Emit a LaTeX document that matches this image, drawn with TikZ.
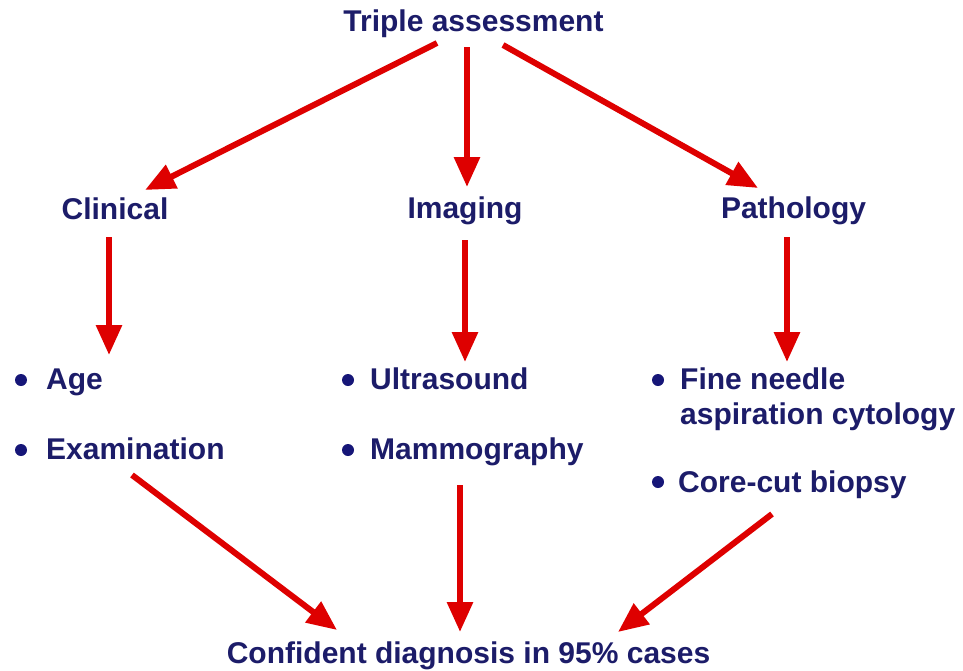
\documentclass[tikz,border=0pt]{standalone}
\usepackage{fontspec}
\setmainfont{Liberation Sans}
\usetikzlibrary{arrows.meta}
\definecolor{navy}{RGB}{28,28,105}
\definecolor{bulletblue}{RGB}{22,22,120}
\definecolor{arrred}{RGB}{222,0,0}
\begin{document}
\begin{tikzpicture}[x=1pt,y=-1pt,
  lbl/.style={inner sep=0pt, text=navy, font=\fontsize{30}{36}\selectfont\bfseries},
  ctr/.style={lbl, anchor=base},
  item/.style={lbl, anchor=base west},
  dot/.style={circle, fill=bulletblue, inner sep=0pt, minimum size=12pt},
  arr/.style={draw=arrred, line width=6pt, -{Triangle[length=30pt,width=25pt]}}]
\fill[white] (0,0) rectangle (963,670);
\useasboundingbox (0,0) rectangle (963,670);

% headings
\node[ctr] (top) at (473.5,31) {Triple assessment};
\node[ctr] (clin) at (115,219) {Clinical};
\node[ctr] (img) at (465,218) {Imaging};
\node[ctr] (path) at (793.5,218) {Pathology};
\node[ctr] (conf) at (468.5,663) {Confident diagnosis in 95\% cases};

% items
\node[item] (age) at (46,389) {Age};
\node[item] (exam) at (46,459) {Examination};
\node[item] (ultra) at (370,389) {Ultrasound};
\node[item] (mammo) at (370,459) {Mammography};
\node[item] (fna1) at (680,389) {Fine needle};
\node[item] (fna2) at (680,424) {aspiration cytology};
\node[item] (core) at (678,492) {Core-cut biopsy};

% bullets
\node[dot] (b1) at (21,380) {};
\node[dot] (b2) at (21,450) {};
\node[dot] (b3) at (348,380) {};
\node[dot] (b4) at (348,450) {};
\node[dot] (b5) at (658,380) {};
\node[dot] (b6) at (658,482) {};

% arrows
\draw[arr] ([shift={(-36.5,12)}]top.base) -- ([shift={(30,-29)}]clin.base);
\draw[arr] ([shift={(-6.5,16)}]top.base) -- ([shift={(2,-31)}]img.base);
\draw[arr] ([shift={(29.5,14)}]top.base) -- ([shift={(-35.5,-30)}]path.base);
\draw[arr] ([shift={(-6,18)}]clin.base) -- ([shift={(63,-34)}]age.base west);
\draw[arr] ([shift={(0,22)}]img.base) -- ([shift={(95,-27)}]ultra.base west);
\draw[arr] ([shift={(-6.5,19)}]path.base) -- ([shift={(107,-27)}]fna1.base west);
\draw[arr] ([shift={(86,16)}]exam.base west) -- ([shift={(-131.5,-33)}]conf.base);
\draw[arr] ([shift={(90,26)}]mammo.base west) -- ([shift={(-8.5,-31)}]conf.base);
\draw[arr] ([shift={(94,22)}]core.base west) -- ([shift={(149.5,-31)}]conf.base);
\end{tikzpicture}
\end{document}
